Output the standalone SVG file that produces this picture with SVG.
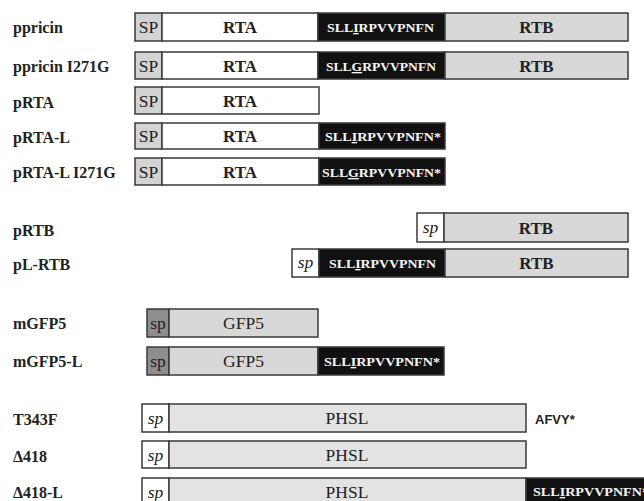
<svg xmlns="http://www.w3.org/2000/svg" width="644" height="501" viewBox="0 0 644 501">
<style>
.lbl{font-family:"Liberation Serif","Times New Roman",serif;font-weight:bold;font-size:16px;fill:#222}
.box{stroke:#3a3a3a;stroke-width:1.5}
.sp{fill:#d3d3d3}
.wh{fill:#ffffff}
.gr{fill:#d8d8d8}
.ph{fill:#e3e3e3}
.dk{fill:#8e8e8e}
.bk{fill:#111111}
.t{font-family:"Liberation Serif","Times New Roman",serif;text-anchor:middle;fill:#222}
.b{font-weight:bold;font-size:17px}
.r{font-size:17.5px}
.i{font-style:italic;font-size:17.5px}
.seq{font-family:"Liberation Serif","Times New Roman",serif;font-weight:bold;font-size:13.5px;fill:#f7f7f7}
.u{text-decoration:underline}
.afvy{font-family:"Liberation Sans",Arial,sans-serif;font-weight:bold;font-size:13px;fill:#222}
</style>
<rect width="644" height="501" fill="#ffffff"/>
<g id="connectors"/>

<g id="ppricin">
<text class="lbl" x="13" y="33">ppricin</text>
<rect class="box sp" x="135" y="13" width="27" height="28"/>
<rect class="box wh" x="162" y="13" width="156" height="28"/>
<rect class="box bk" x="318" y="13" width="127" height="28"/>
<rect class="box gr" x="445" y="13" width="183" height="28"/>
<text class="t r" x="148.5" y="33">SP</text>
<text class="t b" x="240" y="33">RTA</text>
<text class="seq" x="327" y="32" textLength="107" lengthAdjust="spacingAndGlyphs">SLL<tspan class="u">I</tspan>RPVVPNFN</text>
<text class="t b" x="536.5" y="33">RTB</text>
</g>

<g id="ppricin-I271G">
<text class="lbl" x="13" y="72">ppricin I271G</text>
<rect class="box sp" x="135" y="52" width="27" height="27"/>
<rect class="box wh" x="162" y="52" width="156" height="27"/>
<rect class="box bk" x="318" y="52" width="127" height="27"/>
<rect class="box gr" x="445" y="52" width="183" height="27"/>
<text class="t r" x="148.5" y="72">SP</text>
<text class="t b" x="240" y="72">RTA</text>
<text class="seq" x="326" y="71" textLength="110" lengthAdjust="spacingAndGlyphs">SLL<tspan class="u">G</tspan>RPVVPNFN</text>
<text class="t b" x="536.5" y="72">RTB</text>
</g>

<g id="pRTA">
<text class="lbl" x="13" y="108">pRTA</text>
<rect class="box sp" x="135" y="87" width="27" height="27"/>
<rect class="box wh" x="162" y="87" width="157" height="27"/>
<text class="t r" x="148.5" y="107">SP</text>
<text class="t b" x="240" y="107">RTA</text>
</g>

<g id="pRTA-L">
<text class="lbl" x="13" y="143">pRTA-L</text>
<rect class="box sp" x="135" y="123" width="27" height="26"/>
<rect class="box wh" x="162" y="123" width="157" height="26"/>
<rect class="box bk" x="319" y="123" width="126" height="26"/>
<text class="t r" x="148.5" y="142">SP</text>
<text class="t b" x="240" y="142">RTA</text>
<text class="seq" x="325" y="141" textLength="116" lengthAdjust="spacingAndGlyphs">SLL<tspan class="u">I</tspan>RPVVPNFN*</text>
</g>

<g id="pRTA-L-I271G">
<text class="lbl" x="13" y="178">pRTA-L I271G</text>
<rect class="box sp" x="135" y="158" width="27" height="27"/>
<rect class="box wh" x="162" y="158" width="157" height="27"/>
<rect class="box bk" x="319" y="158" width="126" height="27"/>
<text class="t r" x="148.5" y="178">SP</text>
<text class="t b" x="240" y="178">RTA</text>
<text class="seq" x="322" y="177" textLength="119" lengthAdjust="spacingAndGlyphs">SLL<tspan class="u">G</tspan>RPVVPNFN*</text>
</g>

<g id="pRTB">
<text class="lbl" x="13" y="236">pRTB</text>
<rect class="box wh" x="417" y="213" width="27" height="29"/>
<rect class="box gr" x="444" y="213" width="184" height="29"/>
<text class="t i" x="430.5" y="233">sp</text>
<text class="t b" x="536" y="234">RTB</text>
</g>

<g id="pL-RTB">
<text class="lbl" x="13" y="270">pL-RTB</text>
<rect class="box wh" x="292" y="249" width="27" height="28"/>
<rect class="box bk" x="319" y="249" width="126" height="28"/>
<rect class="box gr" x="445" y="249" width="183" height="28"/>
<text class="t i" x="305.5" y="268">sp</text>
<text class="seq" x="329" y="268" textLength="107" lengthAdjust="spacingAndGlyphs">SLL<tspan class="u">I</tspan>RPVVPNFN</text>
<text class="t b" x="536.5" y="269">RTB</text>
</g>

<g id="mGFP5">
<text class="lbl" x="13" y="329">mGFP5</text>
<rect class="box dk" x="147" y="309" width="22" height="28"/>
<rect class="box gr" x="169" y="309" width="149" height="28"/>
<text class="t r" x="158" y="329">sp</text>
<text class="t r" x="243.5" y="329">GFP5</text>
</g>

<g id="mGFP5-L">
<text class="lbl" x="13" y="367">mGFP5-L</text>
<rect class="box dk" x="147" y="347" width="22" height="28"/>
<rect class="box gr" x="169" y="347" width="149" height="28"/>
<rect class="box bk" x="318" y="347" width="126" height="28"/>
<text class="t r" x="158" y="367">sp</text>
<text class="t r" x="243.5" y="367">GFP5</text>
<text class="seq" x="324" y="366" textLength="116" lengthAdjust="spacingAndGlyphs">SLL<tspan class="u">I</tspan>RPVVPNFN*</text>
</g>

<g id="T343F">
<text class="lbl" x="13" y="425">T343F</text>
<rect class="box wh" x="142" y="404" width="27" height="28"/>
<rect class="box ph" x="169" y="404" width="357" height="28"/>
<text class="t i" x="155.5" y="424">sp</text>
<text class="t r" x="347" y="424">PHSL</text>
<text class="afvy" x="535" y="424">AFVY*</text>
</g>

<g id="d418">
<text class="lbl" x="13" y="462">Δ418</text>
<rect class="box wh" x="142" y="441" width="27" height="27"/>
<rect class="box ph" x="169" y="441" width="357" height="27"/>
<text class="t i" x="155.5" y="461">sp</text>
<text class="t r" x="347" y="461">PHSL</text>
</g>

<g id="d418-L">
<text class="lbl" x="13" y="498">Δ418-L</text>
<rect class="box wh" x="142" y="478" width="27" height="30"/>
<rect class="box ph" x="169" y="478" width="357" height="30"/>
<rect class="box bk" x="526" y="478" width="130" height="30"/>
<text class="t i" x="155.5" y="498">sp</text>
<text class="t r" x="347" y="498">PHSL</text>
<text class="seq" x="533" y="496" textLength="116" lengthAdjust="spacingAndGlyphs">SLL<tspan class="u">I</tspan>RPVVPNFN*</text>
</g>
</svg>
